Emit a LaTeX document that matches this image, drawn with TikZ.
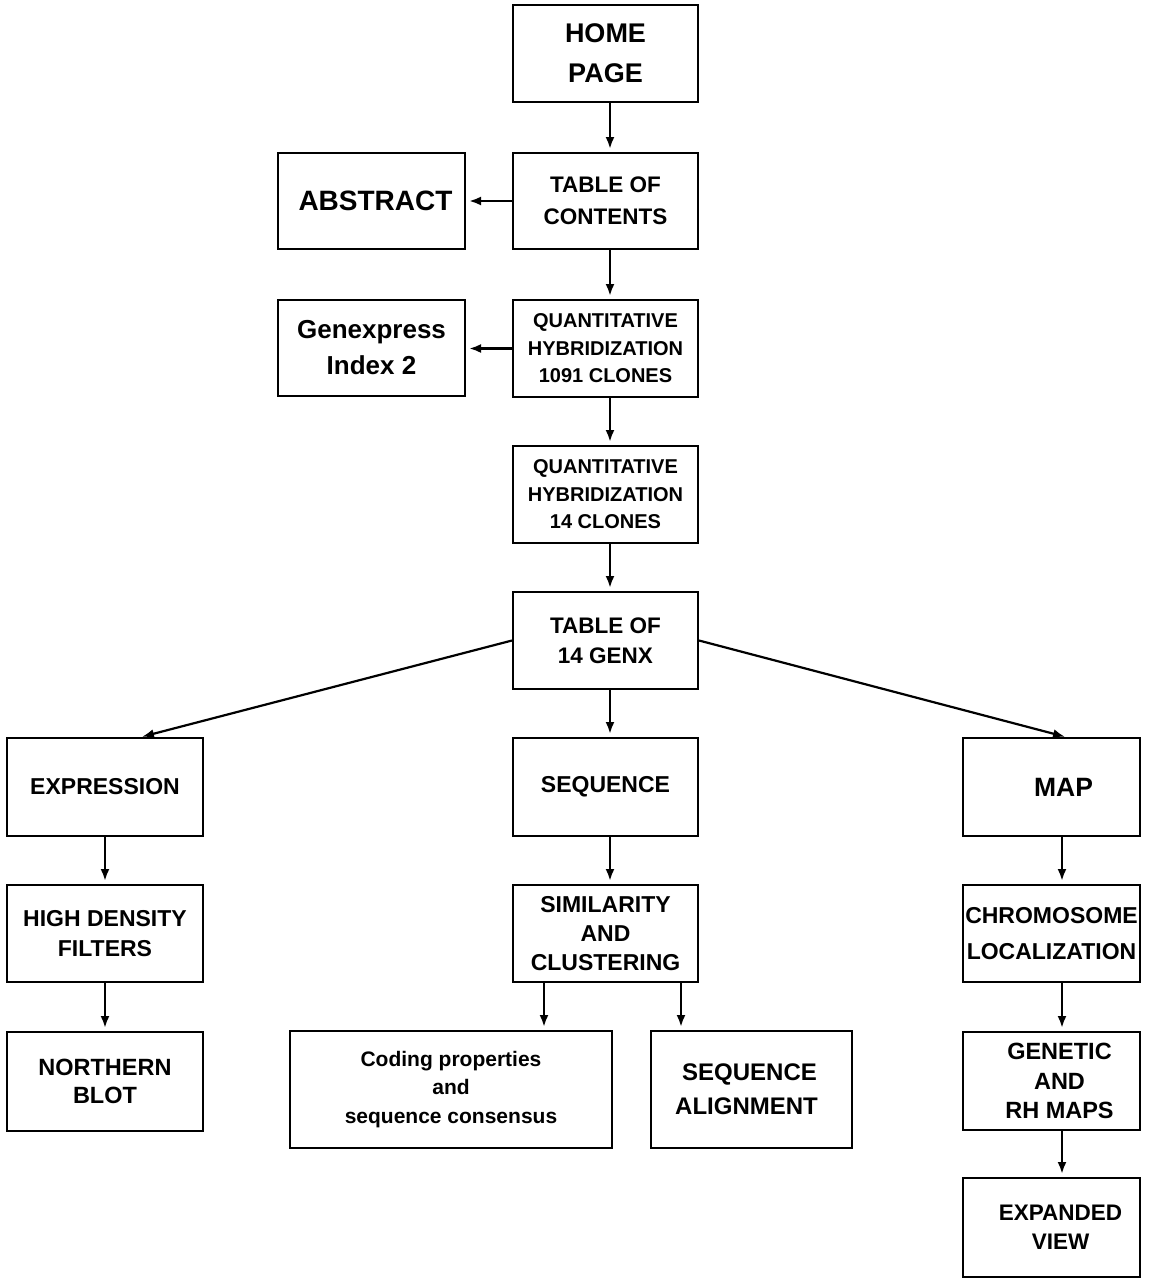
\documentclass[tikz,border=0pt]{standalone}
\usepackage{fontspec}
\setmainfont{Liberation Sans}
\usetikzlibrary{arrows.meta}
\begin{document}
\begin{tikzpicture}[x=1pt,y=-1pt,
  box/.style={draw,line width=2pt,inner sep=0pt,align=center},
  fs/.style 2 args={font=\fontsize{#1}{#2}\selectfont\bfseries},
  arr/.style={line width=2.4pt,-{Latex[length=12pt,width=9pt]},shorten >=3pt},
  darr/.style={line width=2.2pt,-{Latex[length=12pt,width=9pt]},shorten >=1pt}]
\useasboundingbox[fill=white] (0,0) rectangle (1154,1280);

\node[box,fs={27}{40},minimum width=185pt,minimum height=97pt] (home) at (605.5,53.5) {HOME\\PAGE};
\node[box,fs={22.5}{32},minimum width=185pt,minimum height=96pt] (toc) at (605.5,201) {TABLE OF\\CONTENTS};
\node[box,fs={28}{32},minimum width=187pt,minimum height=96pt] (abs) at (371.5,201) {\hspace*{8pt}ABSTRACT};
\node[box,fs={20}{27.5},minimum width=185pt,minimum height=97pt] (q1) at (605.5,348.5) {QUANTITATIVE\\HYBRIDIZATION\\1091 CLONES};
\node[box,fs={26}{36},minimum width=187pt,minimum height=96pt] (gen) at (371.5,348) {Genexpress\\Index 2};
\node[box,fs={20}{27.5},minimum width=185pt,minimum height=97pt] (q2) at (605.5,494.5) {QUANTITATIVE\\HYBRIDIZATION\\14 CLONES};
\node[box,fs={22.5}{30},minimum width=185pt,minimum height=97pt] (t14) at (605.5,640.5) {TABLE OF\\14 GENX};

\node[box,fs={23}{30},minimum width=196pt,minimum height=98pt] (expr) at (105,787) {EXPRESSION};
\node[box,fs={23}{30},minimum width=185pt,minimum height=98pt] (seq) at (605.5,787) {SEQUENCE};
\node[box,fs={26.5}{30},minimum width=177pt,minimum height=98pt] (map) at (1051.5,787) {\hspace*{24pt}MAP};

\node[box,fs={23}{30},minimum width=196pt,minimum height=97pt] (hdf) at (105,933.5) {HIGH DENSITY\\FILTERS};
\node[box,fs={23}{29},minimum width=185pt,minimum height=97pt] (sim) at (605.5,933.5) {SIMILARITY\\AND\\CLUSTERING};
\node[box,fs={23}{36},minimum width=177pt,minimum height=97pt] (chr) at (1051.5,933.5) {CHROMOSOME\\LOCALIZATION};

\node[box,fs={23.5}{28},minimum width=196pt,minimum height=99pt] (nb) at (105,1081.5) {NORTHERN\\BLOT};
\node[box,fs={21}{28.5},minimum width=322pt,minimum height=117pt] (cod) at (451,1089.5) {Coding properties\\and\\sequence consensus};
\node[box,fs={24}{34},minimum width=201pt,minimum height=117pt] (sal) at (751.5,1089.5) {SEQUENCE\hspace*{4pt}\\ALIGNMENT\hspace*{10pt}};
\node[box,fs={23.5}{29.5},minimum width=177pt,minimum height=98pt] (gen2) at (1051.5,1081) {\hspace*{16pt}GENETIC\\\hspace*{16pt}AND\\\hspace*{16pt}RH MAPS};
\node[box,fs={22.5}{29},minimum width=177pt,minimum height=99pt] (exp) at (1051.5,1227.5) {\hspace*{18pt}EXPANDED\\\hspace*{18pt}VIEW};

\draw[arr] ([xshift=4.5pt]home.south) -- ([xshift=4.5pt]toc.north);
\draw[arr] (toc.west) -- (abs.east);
\draw[arr] ([xshift=4.5pt]toc.south) -- ([xshift=4.5pt]q1.north);
\draw[arr] (q1.west) -- (gen.east |- q1.west);
\draw[arr] ([xshift=4.5pt]q1.south) -- ([xshift=4.5pt]q2.north);
\draw[arr] ([xshift=4.5pt]q2.south) -- ([xshift=4.5pt]t14.north);
\draw[arr] ([xshift=4.5pt]t14.south) -- ([xshift=4.5pt]seq.north);
\draw[darr] (t14.west) -- ([xshift=36pt]expr.north);
\draw[darr] (t14.east) -- ([xshift=14.5pt]map.north);
\draw[arr] ([xshift=4.5pt]seq.south) -- ([xshift=4.5pt]sim.north);
\draw[arr] (expr.south) -- (hdf.north);
\draw[arr] (hdf.south) -- (nb.north);
\draw[arr] ([xshift=10.5pt]map.south) -- ([xshift=10.5pt]chr.north);
\draw[arr] ([xshift=10.5pt]chr.south) -- ([xshift=10.5pt]gen2.north);
\draw[arr] ([xshift=10.5pt]gen2.south) -- ([xshift=10.5pt]exp.north);
\draw[arr] ([xshift=-61.5pt]sim.south) -- ([xshift=-61.5pt]sim.south |- cod.north);
\draw[arr] ([xshift=75.5pt]sim.south) -- ([xshift=75.5pt]sim.south |- sal.north);
\end{tikzpicture}
\end{document}
